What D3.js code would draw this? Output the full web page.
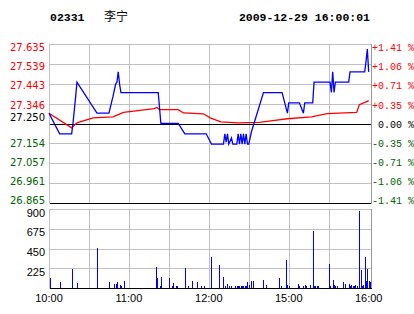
<!DOCTYPE html>
<html><head><meta charset="utf-8">
<script src="https://cdn.jsdelivr.net/npm/d3@7"></script>
<style>body{margin:0;background:#fff}svg{display:block}</style>
</head><body><svg id="c" width="414" height="314"></svg>
<script>
const stockCode = "02331", stockName = "李宁", stamp = "2009-12-29 16:00:01";
const prevClose = 27.25;
const priceTickLabels = ["27.635","27.539","27.443","27.346","27.250","27.154","27.057","26.961","26.865"];
const pctTickLabels = ["+1.41 %","+1.06 %","+0.71 %","+0.35 %","0.00 %","-0.35 %","-0.71 %","-1.06 %","-1.41 %"];
const volTickLabels = [900, 675, 450, 225];
const timeLabels = ["10:00","11:00","12:00","15:00","16:00"];
const timeLabelMinutes = [0, 60, 120, 180, 240];

const priceMinutes = [0,8,17,18,20,21,36,45,48,50,51,52,53,54,82,84,97,102,118,122,131,132,133,134,135,137,138,141,142,143,144,145,146,147,148,149,150,152,161,175,179,180,188,191,192,198,199,211,212,213,214,215,225,226,237,238,239,240];
const priceValues  = [27.30,27.20,27.20,27.25,27.38,27.45,27.30,27.30,27.38,27.44,27.45,27.50,27.44,27.40,27.40,27.25,27.25,27.20,27.20,27.15,27.15,27.20,27.16,27.20,27.15,27.18,27.15,27.15,27.20,27.15,27.20,27.15,27.20,27.15,27.20,27.15,27.15,27.21,27.40,27.40,27.30,27.35,27.35,27.30,27.35,27.35,27.45,27.45,27.40,27.50,27.40,27.45,27.45,27.50,27.50,27.55,27.61,27.50];

const avgMinutes = [0,17,21,33,48,52,56,79,81,83,97,101,116,121,129,142,158,168,179,197,209,231,233,239,240];
const avgValues  = [27.300,27.229,27.253,27.277,27.282,27.293,27.304,27.322,27.328,27.317,27.317,27.301,27.297,27.277,27.258,27.253,27.255,27.264,27.273,27.282,27.298,27.304,27.341,27.357,27.361];

const volMinutes = [1,8,17,21,36,45,49,50,51,53,54,56,80,81,83,84,90,92,93,95,96,102,104,107,111,114,116,122,128,131,132,134,135,137,140,141,142,143,144,145,146,147,148,149,150,152,153,161,163,173,174,178,179,180,187,188,191,192,193,196,198,199,200,201,202,210,211,213,214,215,216,221,222,225,226,227,228,229,230,231,233,234,235,236,237,238,239,240,241];
const volValues  = [117,68,217,57,460,68,45,40,68,34,23,80,240,114,23,125,114,23,57,23,23,228,23,80,68,23,23,353,262,125,23,45,23,23,23,23,23,23,23,23,23,23,23,68,34,80,80,91,34,114,23,320,34,23,45,23,23,34,23,34,650,23,23,23,23,274,23,91,34,23,23,68,45,45,23,34,23,23,34,23,877,205,23,34,353,80,217,80,68];

const svg = d3.select("#c");
const GRID = "#c0c0c0", RED = "#ff0000", GREEN = "#006400", BLUE = "#0000ff";
const x = d3.scaleLinear().domain([0, 241]).range([49, 370]);
const yP = d3.scaleLinear().domain([26.865, 27.635]).range([203, 44]);
const yV = d3.scaleLinear().domain([0, 900]).range([288, 209]);
const px = v => Math.round(v) + 0.5;
const left = 49.5, right = 371.5;

// header
svg.append("text").attr("x", 50).attr("y", 20.5).attr("font-family", "Liberation Mono").attr("font-weight", "bold").attr("font-size", 11.5).text(stockCode);
svg.append("text").attr("x", 104).attr("y", 20.5).attr("font-family", "Noto Sans CJK SC").attr("font-size", 12).text(stockName);
svg.append("text").attr("x", 370).attr("y", 20.5).attr("text-anchor", "end").attr("font-family", "Liberation Mono").attr("font-weight", "bold").attr("font-size", 11.5).text(stamp);

// price grid
const gP = svg.append("g").attr("shape-rendering", "crispEdges");
const gridMinutes = d3.range(30, 211, 30);
gP.selectAll(".vg").data(gridMinutes).join("line")
  .attr("x1", d => px(x(d))).attr("x2", d => px(x(d))).attr("y1", 44).attr("y2", 203).attr("stroke", GRID);
gP.selectAll(".hg").data(priceTickLabels).join("line")
  .attr("x1", left).attr("x2", right)
  .attr("y1", d => px(yP(+d))).attr("y2", d => px(yP(+d)))
  .attr("stroke", (d, i) => (i === 4 || i === 8) ? "#000" : GRID);
gP.append("line").attr("x1", left).attr("x2", left).attr("y1", 44).attr("y2", 204).attr("stroke", GRID);
gP.append("line").attr("x1", right).attr("x2", right).attr("y1", 44).attr("y2", 204).attr("stroke", "#999");

// volume grid
const gV = svg.append("g").attr("shape-rendering", "crispEdges");
gV.selectAll(".vg").data(gridMinutes).join("line")
  .attr("x1", d => px(x(d))).attr("x2", d => px(x(d))).attr("y1", 209).attr("y2", 288).attr("stroke", GRID);
gV.selectAll(".hg").data(volTickLabels).join("line")
  .attr("x1", left).attr("x2", right)
  .attr("y1", d => px(yV(d))).attr("y2", d => px(yV(d))).attr("stroke", GRID);
gV.append("line").attr("x1", left).attr("x2", left).attr("y1", 209).attr("y2", 289).attr("stroke", GRID);
gV.append("line").attr("x1", right).attr("x2", right).attr("y1", 209).attr("y2", 289).attr("stroke", "#999");

// volume bars
const bars = d3.zip(volMinutes, volValues);
svg.append("g").attr("shape-rendering", "crispEdges").selectAll("rect").data(bars).join("rect")
  .attr("x", d => Math.round(x(d[0]))).attr("width", 1)
  .attr("y", d => Math.round(yV(d[1]))).attr("height", d => 288 - Math.round(yV(d[1])))
  .attr("fill", BLUE);
gV.append("line").attr("x1", left).attr("x2", right).attr("y1", 288.5).attr("y2", 288.5).attr("stroke", "#000");

// lines
const line = d3.line().x(d => x(d[0])).y(d => yP(d[1]));
svg.append("path").datum(d3.zip(avgMinutes, avgValues)).attr("d", line).attr("fill", "none").attr("stroke", RED).attr("stroke-width", 1.3);
svg.append("path").datum(d3.zip(priceMinutes, priceValues)).attr("d", line).attr("fill", "none").attr("stroke", BLUE).attr("stroke-width", 1.3);

// left labels
const colorFor = i => i < 4 ? RED : (i === 4 ? "#000" : GREEN);
svg.append("g").selectAll("text").data(priceTickLabels).join("text")
  .attr("x", 45).attr("text-anchor", "end")
  .attr("y", (d, i) => i === 4 ? yP(+d) - 3 : yP(+d) + 7.4 - i * 0.84)
  .attr("font-family", "DejaVu Sans").attr("font-size", 10)
  .attr("fill", (d, i) => colorFor(i)).text(d => d);
// right labels
svg.append("g").selectAll("text").data(pctTickLabels).join("text")
  .attr("x", 414).attr("text-anchor", "end")
  .attr("y", (d, i) => i === 4 ? yP(prevClose) + 4.3 : yP(+priceTickLabels[i]) + 7.4 - i * 0.84)
  .attr("font-family", "Liberation Mono").attr("font-size", 10)
  .attr("fill", (d, i) => colorFor(i)).text(d => d);
// volume labels
svg.append("g").selectAll("text").data(volTickLabels).join("text")
  .attr("x", 45).attr("text-anchor", "end")
  .attr("y", d => yV(d) + 7.5)
  .attr("font-family", "Liberation Sans").attr("font-size", 11)
  .attr("fill", "#000").text(d => d);
// time labels
svg.append("g").selectAll("text").data(timeLabels).join("text")
  .attr("x", (d, i) => x(timeLabelMinutes[i])).attr("text-anchor", "middle").attr("y", 302)
  .attr("font-family", "Liberation Sans").attr("font-size", 11)
  .attr("fill", "#000").text(d => d);
</script></body></html>
